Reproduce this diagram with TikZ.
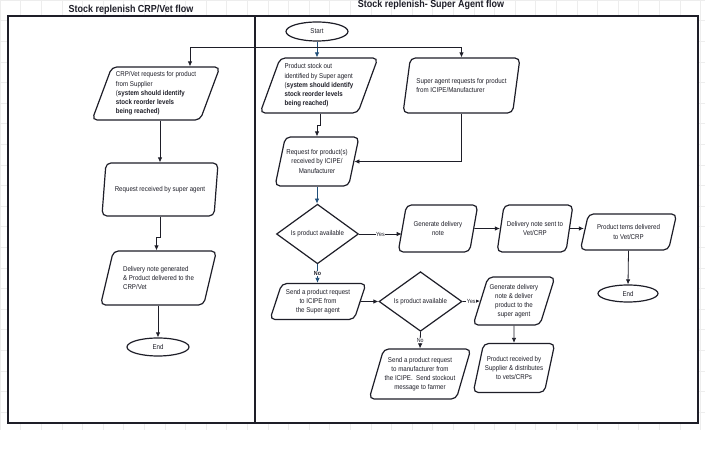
\documentclass[tikz,border=0pt]{standalone}
\usepackage{fontspec}
\setmainfont{Liberation Sans}[FakeStretch=0.88]
\usetikzlibrary{shapes.geometric,arrows.meta,calc}
\definecolor{flowblue}{RGB}{31,78,121}
\definecolor{ink}{RGB}{30,30,40}
\begin{document}
\begin{tikzpicture}[x=1pt,y=-1pt,
  every node/.style={text=ink},
  para/.style={trapezium, trapezium left angle=68, trapezium right angle=112,
    trapezium stretches=true, draw=ink, line width=1.2pt, rounded corners=5pt,
    align=center, inner sep=1pt, font=\fontsize{7}{9.2}\selectfont},
  term/.style={ellipse, draw=ink, line width=1.2pt, minimum width=62pt, minimum height=18pt,
    inner sep=0pt, font=\fontsize{7}{9.2}\selectfont},
  dec/.style={diamond, draw=ink, line width=1.2pt, inner sep=0pt,
    font=\fontsize{7}{9.2}\selectfont},
  arr/.style={-{Latex[length=5pt,width=4.5pt]}, line width=0.8pt, draw=ink},
  barr/.style={-{Latex[length=5pt,width=4.5pt]}, line width=0.8pt, draw=flowblue},
  lbl/.style={fill=white, inner sep=0.5pt, font=\fontsize{6}{7}\selectfont},
  ttl/.style={font=\fontsize{10.2}{12}\selectfont\bfseries},
  frame/.style={draw=ink, line width=1.8pt, fill=white}
]
\useasboundingbox (0,0) rectangle (705,454);
% faint background grid
\begin{scope}
\clip (0,0) rectangle (705,430);
\draw[gray!14, line width=0.4pt, step=20.6pt] (0,0) grid (705,440);
\end{scope}
% frames
\draw[frame] (8,16) rectangle (255,423);
\draw[frame] (255,16) rectangle (698,423);
% titles
\node[ttl] (t1) at (131,10) {Stock replenish CRP/Vet flow};
\node[ttl] (t2) at (431,4.5) {Stock replenish- Super Agent flow};

% left column
\node[para, minimum width=128pt, minimum height=53pt, align=left] (crp) at (156,93.5)
  {CRP/Vet requests for product\\from Supplier\\(\textbf{system should identify}\\\textbf{stock reorder levels}\\\textbf{being reached)}};
\node[para, minimum width=117pt, minimum height=53pt] (reqrec) at (160,189.5)
  {Request received by super agent};
\node[para, minimum width=117pt, minimum height=54pt, align=left] (delgen) at (158.5,278)
  {Delivery note generated\\\& Product delivered to the\\CRP/Vet};
\node[term] (end1) at (158,347) {End};

% right column
\node[term, minimum height=19pt] (start) at (317,31.5) {Start};
\node[para, minimum width=118pt, minimum height=55pt, align=left] (stockout) at (319,85.5)
  {Product stock out\\identified by Super agent\\(\textbf{system should identify}\\\textbf{stock reorder levels}\\\textbf{being reached)}};
\node[para, minimum width=117pt, minimum height=55pt, align=left] (sareq) at (461.5,85.5)
  {Super agent requests for product\\from ICIPE/Manufacturer};
\node[para, minimum width=82pt, minimum height=49pt] (reqicipe) at (317,161.5)
  {Request for product(s)\\received by ICIPE/\\Manufacturer};
\node[dec, minimum width=82pt, minimum height=46pt] (dec1) at (317.5,234) {Is product available};
\node[para, minimum width=80pt, minimum height=47pt] (gendel) at (438,228.5)
  {Generate delivery\\note};
\node[para, minimum width=76pt, minimum height=47pt] (delsent) at (535,228.5)
  {Delivery note sent to\\Vet/CRP};
\node[para, minimum width=97pt, minimum height=36pt] (proddel) at (628.5,232)
  {Product tems delivered\\to Vet/CRP};
\node[term, minimum width=60pt, minimum height=17pt] (end2) at (628,293.5) {End};
\node[para, minimum width=97pt, minimum height=36pt] (sendicipe) at (318,301.5)
  {Send a product request\\to ICIPE from\\the Super agent};
\node[dec, minimum width=83pt, minimum height=47pt] (dec2) at (420.5,301.5) {Is product available};
\node[para, minimum width=82pt, minimum height=48pt] (gendel2) at (514,301)
  {Generate delivery\\note \& deliver\\product to the\\super agent};
\node[para, minimum width=98pt, minimum height=50pt] (sendmfr) at (420,374)
  {Send a product request\\to manufacturer from\\the ICIPE.\ \ Send stockout\\message to farmer};
\node[para, minimum width=82pt, minimum height=49pt] (prodrec) at (514,368)
  {Product received by\\Supplier \& distributes\\to vets/CRPs};

% connectors
\coordinate (j) at (start.south |- 0,47);
\draw[barr] (start.south) -- (stockout.north -| start.south);
\draw[arr] (j) -| ([xshift=34pt]crp.north);
\draw[arr] (j) -| (sareq.north);
\draw[arr] (reqrec.north |- crp.south) -- (reqrec.north);
\draw[arr] (reqrec.south) -- ++(0,21) -| ([xshift=-2pt]delgen.north);
\draw[arr] (delgen.south) -- ++(0,15) -| (end1.north);
\draw[arr] ([xshift=1pt]stockout.south) -- ++(0,12) -| (reqicipe.north);
\draw[arr] (sareq.south) |- (reqicipe.east);
\draw[barr] (reqicipe.south) -- (dec1.north -| reqicipe.south);
\draw[arr] (dec1.east) -- node[lbl] {Yes} (dec1.east -| gendel.west);
\draw[arr] (gendel.east) -- (delsent.west);
\draw[arr] (delsent.east) -- (delsent.east -| proddel.west);
\draw[arr] (proddel.south) -- (end2.north);
\draw[barr] (dec1.south) -- node[lbl, font=\fontsize{6}{7}\selectfont\bfseries] {No} (sendicipe.north -| dec1.south);
\draw[arr] (sendicipe.east) -- (dec2.west);
\draw[arr] (dec2.east) -- node[lbl] {Yes} (gendel2.west);
\draw[arr] (dec2.south) -- node[lbl] {No} (sendmfr.north);
\draw[arr] (gendel2.south) -- (prodrec.north);
\end{tikzpicture}
\end{document}
